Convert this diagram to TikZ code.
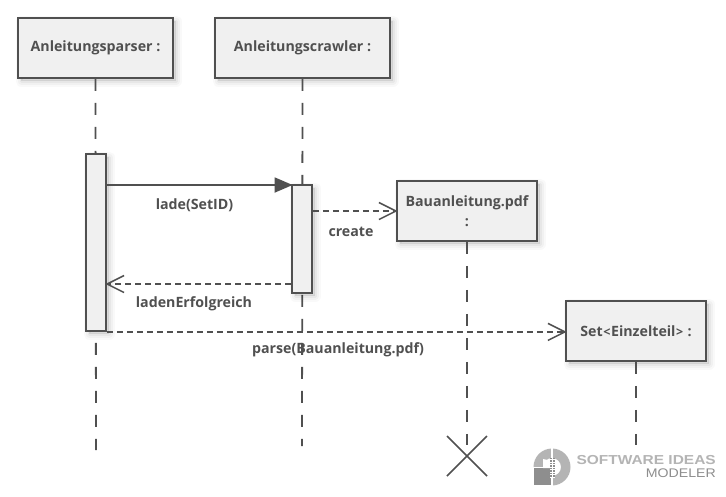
\documentclass[tikz,border=0pt]{standalone}
\usepackage{fontspec}
\setmainfont{Open Sans}
\newfontfamily\logofont{Liberation Sans}
\usetikzlibrary{arrows.meta,calc}
\definecolor{ink}{HTML}{505050}
\definecolor{boxfill}{HTML}{F0F0F0}
\definecolor{logolight}{HTML}{B4B4B4}
\definecolor{logodark}{HTML}{8E8E8E}
\newcommand{\dropbit}[1]{\raisebox{-1pt}{#1}}
\newcommand{\smallangle}[1]{{\fontsize{12.5}{12}\selectfont\hspace{.6pt}#1\hspace{.6pt}}}
\tikzset{
  softshadow/.style={
    preaction={draw=black,fill=black,draw opacity=.025,fill opacity=.025,line width=11pt,line join=round,transform canvas={xshift=3pt,yshift=-3pt}},
    preaction={draw=black,fill=black,draw opacity=.03,fill opacity=.03,line width=7pt,line join=round,transform canvas={xshift=3pt,yshift=-3pt}},
    preaction={draw=black,fill=black,draw opacity=.04,fill opacity=.04,line width=3pt,line join=round,transform canvas={xshift=3pt,yshift=-3pt}}
  },
  objbox/.style={softshadow,draw=ink,fill=boxfill,line width=1.8pt,inner sep=0pt,text=ink,align=center,font=\fontsize{14.2}{20.5}\selectfont\bfseries},
  activation/.style={softshadow,draw=ink,fill=boxfill,line width=1.8pt,inner sep=0pt,minimum width=20pt},
  lifeline/.style={draw=ink,line width=1.8pt,dash pattern=on 12pt off 12pt},
  msglabel/.style={text=ink,inner sep=0pt,font=\fontsize{14.2}{17}\selectfont\bfseries},
  callmsg/.style={draw=ink,line width=1.8pt,shorten >=-1.5pt,-{Triangle[length=18pt,width=15pt,fill=ink]}},
  replymsg/.style={draw=ink,line width=1.8pt,shorten >=-1.5pt,dash pattern=on 6pt off 4pt,-{Straight Barb[length=17pt,width=17pt,line width=1.5pt,color=ink]}}
}
\begin{document}
\begin{tikzpicture}[x=1pt,y=-1pt]
\useasboundingbox[fill=white] (0,0) rectangle (726,496);
% lifeline end points
\coordinate (pEnd) at (96,450);
\coordinate (cEnd) at (302,446);
\coordinate (bEnd) at (467,445);
\coordinate (sEnd) at (636,445);
% objects
\node[objbox,minimum width=155pt,minimum height=60pt] (parser) at (95.5,48) {\dropbit{Anleitungsparser :}};
\node[objbox,minimum width=175pt,minimum height=60pt] (crawler) at (302.5,48) {\dropbit{Anleitungscrawler :}};
\node[objbox,minimum width=140pt,minimum height=60pt] (pdf) at (467,211) {Bauanleitung.pdf\\:};
\node[objbox,minimum width=140pt,minimum height=60pt] (set) at (636,331) {\dropbit{Set\smallangle{<}Einzelteil\smallangle{>} :}};
% lifelines
\draw[lifeline] (parser.south) -- (pEnd);
\draw[lifeline] (crawler.south) -- (cEnd);
\draw[lifeline] (pdf.south) -- (bEnd);
\draw[lifeline] (set.south) -- (sEnd);
% activations
\node[activation,minimum height=177pt] (parserAct) at (96,242.5) {};
\node[activation,minimum height=108pt] (crawlerAct) at (302,239) {};
% messages
\draw[callmsg] (parserAct.east |- 0,185) -- (crawlerAct.west |- 0,185);
\draw[replymsg] (crawlerAct.east |- 0,211) -- (pdf.west |- 0,211);
\draw[replymsg] (crawlerAct.west |- 0,284) -- (parserAct.east |- 0,284);
\draw[replymsg] (parserAct.south east) -- (set.west |- parserAct.south east);
% labels
\node[msglabel] (l1) at (194.5,205) {lade(SetID)};
\node[msglabel] (l2) at (351,232) {create};
\node[msglabel] (l3) at (194,304) {ladenErfolgreich};
\node[msglabel] (l4) at (338,350) {parse(Bauanleitung.pdf)};
% destruction
\coordinate (xc) at (467,456);
\draw[draw=ink,line width=1.5pt] ($(xc)+(-20,-20)$) -- ($(xc)+(20,20)$) ($(xc)+(20,-20)$) -- ($(xc)+(-20,20)$);
% logo
\begin{scope}
  \fill[logolight,even odd rule] (552,467) circle (18.5pt) (552,467) circle (9pt);
  \fill[white] (533,468) rectangle (551,486);
  \fill[logodark] (534,468) rectangle (551,485);
  \fill[white] (552,468) arc[start angle=0,end angle=90,radius=9pt] -- (543,468) -- cycle;
  \fill[white] (533,466.7) rectangle (543,468);
  \fill[white] (551,448) rectangle (553,458);
  \fill[white] (551,476) rectangle (553,486);
  \fill[logodark] (549.5,458) rectangle (554.5,478);
  \foreach \yy in {459,461.5,...,477} \fill[white] (549.5,\yy) rectangle (554.5,\yy+.8);
  \draw[white,line width=.6pt] (552,458) -- (552,478);
\end{scope}
\node[anchor=east,inner sep=0pt,xscale=1.19,text=logolight,font=\logofont\fontsize{13}{13}\selectfont\bfseries] (logoA) at (716,460.5) {SOFTWARE IDEAS};
\node[anchor=east,inner sep=0pt,xscale=1.13,text=logodark,font=\logofont\fontsize{12.5}{13}\selectfont] (logoB) at (716,473.5) {MODELER};
\end{tikzpicture}
\end{document}
